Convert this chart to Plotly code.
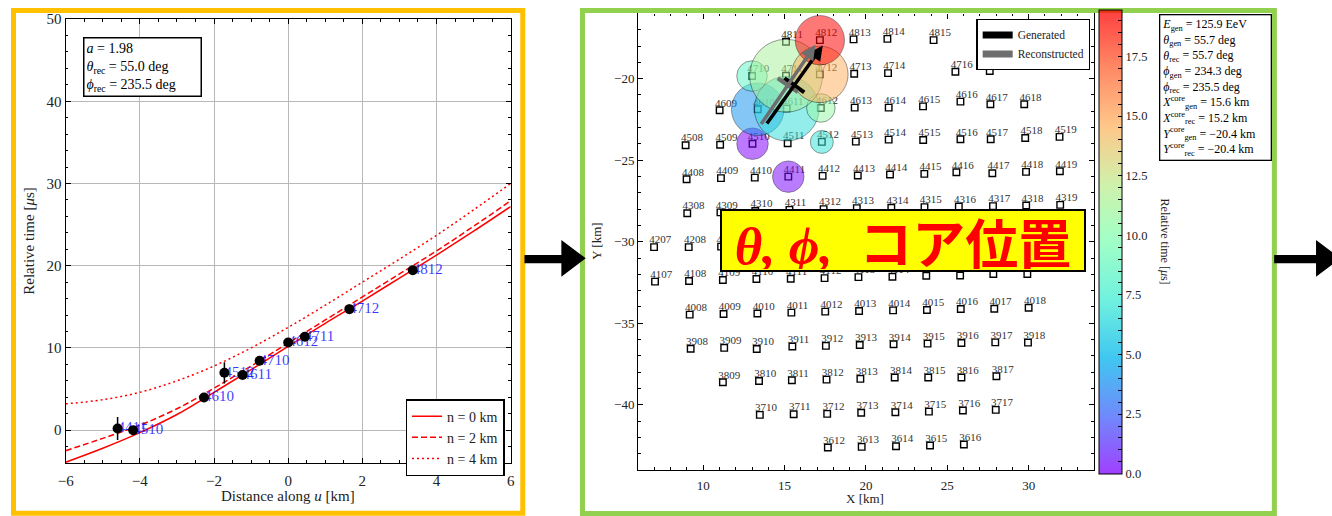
import math
import plotly.graph_objects as go

W, H = 1332, 516
SERIF = "Liberation Serif"

# ---------------- Left panel data (timing vs distance along u) ----------------
fit_station = ["4411", "4510", "4610", "4512", "4611", "4710", "4612", "4711", "4712", "4812"]
fit_u = [-4.60, -4.18, -2.27, -1.72, -1.23, -0.77, 0.00, 0.45, 1.65, 3.36]
fit_t = [0.2, 0.0, 3.98, 6.97, 6.7, 8.43, 10.67, 11.35, 14.72, 19.46]
fit_err = [1.4, 0.3, 0.3, 1.3, 0.3, 0.3, 0.3, 0.3, 0.3, 0.3]

curve_u = [-6, -5, -4, -3, -2, -1, 0, 1, 2, 3, 4, 5, 6]
curve_n0 = [-3.9, -2.2, -0.3, 1.9, 4.6, 7.35, 10.2, 13.0, 15.7, 18.5, 21.3, 24.2, 27.2]
curve_n2 = [-2.5, -1.0, 0.6, 2.6, 5.1, 7.8, 10.6, 13.4, 16.2, 19.0, 21.8, 24.8, 27.9]
curve_n4 = [3.2, 3.7, 4.6, 6.0, 7.8, 10.0, 12.5, 15.2, 18.0, 20.8, 23.7, 26.8, 30.0]
curve_names = ["n = 0 km", "n = 2 km", "n = 4 km"]

fit_a = 1.98
fit_theta_rec = 55.0
fit_phi_rec = 235.5

# ---------------- Middle panel data (detector map) ----------------
station_id = [
    "4811", "4812", "4813", "4814", "4815",
    "4710", "4711", "4712", "4713", "4714", "4716", "4717",
    "4609", "4610", "4611", "4612", "4613", "4614", "4615", "4616", "4617", "4618",
    "4508", "4509", "4510", "4511", "4512", "4513", "4514", "4515", "4516", "4517", "4518", "4519",
    "4408", "4409", "4410", "4411", "4412", "4413", "4414", "4415", "4416", "4417", "4418", "4419",
    "4308", "4309", "4310", "4311", "4312", "4313", "4314", "4315", "4316", "4317", "4318", "4319",
    "4207", "4208", "4209", "4210", "4211", "4212", "4213", "4214", "4215", "4216", "4217", "4218",
    "4107", "4108", "4109", "4110", "4111", "4112", "4113", "4114", "4115", "4116", "4117", "4118",
    "4008", "4009", "4010", "4011", "4012", "4013", "4014", "4015", "4016", "4017", "4018",
    "3908", "3909", "3910", "3911", "3912", "3913", "3914", "3915", "3916", "3917", "3918",
    "3809", "3810", "3811", "3812", "3813", "3814", "3815", "3816", "3817",
    "3710", "3711", "3712", "3713", "3714", "3715", "3716", "3717",
    "3612", "3613", "3614", "3615", "3616",
]
station_x = [
    15.09, 17.17, 19.24, 21.32, 24.16,
    13.00, 15.09, 17.17, 19.28, 21.36, 25.50, 27.61,
    11.01, 13.35, 15.13, 17.23, 19.31, 21.40, 23.51, 25.81, 27.65, 29.73,
    8.92, 11.04, 13.03, 15.19, 17.29, 19.38, 21.40, 23.52, 25.81, 27.67, 29.79, 31.90,
    8.98, 11.09, 13.17, 15.23, 17.34, 19.50, 21.48, 23.59, 25.56, 27.77, 29.84, 31.92,
    9.02, 11.06, 13.20, 15.30, 17.40, 19.44, 21.56, 23.60, 25.71, 27.81, 29.85, 31.94,
    6.98, 9.11, 11.10, 13.25, 15.35, 17.45, 19.55, 21.60, 23.70, 25.80, 27.85, 29.90,
    7.04, 9.13, 11.21, 13.27, 15.38, 17.46, 19.54, 21.63, 23.71, 25.79, 27.83, 29.92,
    9.17, 11.25, 13.33, 15.42, 17.50, 19.58, 21.67, 23.75, 25.83, 27.89, 30.00,
    9.23, 11.29, 13.29, 15.48, 17.54, 19.62, 21.70, 23.79, 25.87, 27.95, 29.96,
    11.21, 13.43, 15.45, 17.58, 19.66, 21.77, 23.83, 25.87, 28.02,
    13.48, 15.56, 17.62, 19.71, 21.81, 23.87, 25.96, 27.98,
    17.66, 19.74, 21.85, 23.94, 26.02,
]
station_y = [
    -17.74, -17.64, -17.59, -17.56, -17.64,
    -19.84, -19.82, -19.74, -19.70, -19.66, -19.58, -19.53,
    -21.94, -21.88, -21.84, -21.80, -21.78, -21.78, -21.70, -21.41, -21.57, -21.57,
    -24.08, -24.05, -23.99, -23.96, -23.88, -23.86, -23.74, -23.76, -23.72, -23.72, -23.64, -23.57,
    -26.17, -26.10, -26.07, -26.01, -25.96, -25.94, -25.88, -25.84, -25.74, -25.80, -25.72, -25.68,
    -28.25, -28.20, -28.12, -28.05, -28.00, -27.94, -27.92, -27.88, -27.84, -27.82, -27.78, -27.74,
    -30.33, -30.33, -30.30, -30.25, -30.20, -30.17, -30.13, -30.10, -30.07, -30.03, -30.00, -29.97,
    -32.45, -32.41, -32.35, -32.29, -32.27, -32.23, -32.17, -32.15, -32.09, -32.07, -31.98, -31.98,
    -34.47, -34.43, -34.40, -34.35, -34.29, -34.25, -34.21, -34.19, -34.13, -34.11, -34.05,
    -36.56, -36.51, -36.58, -36.43, -36.39, -36.33, -36.29, -36.25, -36.21, -36.17, -36.19,
    -38.62, -38.54, -38.50, -38.46, -38.41, -38.33, -38.33, -38.33, -38.25,
    -40.62, -40.58, -40.56, -40.49, -40.46, -40.42, -40.35, -40.31,
    -42.62, -42.58, -42.54, -42.50, -42.44,
]

hit_station = fit_station
hit_time = fit_t
hit_radius_km = [0.96, 0.96, 1.60, 0.70, 1.97, 0.93, 0.87, 2.22, 1.72, 1.50]

E_gen = 125.9
theta_gen, theta_rec = 55.7, 55.7
phi_gen, phi_rec = 234.3, 235.5
core_gen = (15.6, -20.4)
core_rec = (15.2, -20.4)

# ---------------- layout geometry ----------------
# target screen pixels -> layout pixels (the captured page is offset / rescaled slightly)
SX, SY = 1340.0 / 1332.0, 524.0 / 516.0


def X(p):
    return p * SX - 8


def Y(p):
    return p * SY - 8


def fx(p):
    return X(p) / W


def fy(p):
    return 1 - Y(p) / H


LX0, LX1, LY0, LY1 = 65.8, 512.2, 19.0, 463.0
MX0, MX1, MY0, MY1 = 640.0, 1097.0, 13.3, 470.0
MXR, MYR = [6, 34], [-44, -16]
PX_PER_KM = (X(MX1) - X(MX0)) / (MXR[1] - MXR[0])

fig = go.Figure()

# ---- left panel ----
styles = [dict(color="red", width=1.5),
          dict(color="red", width=1.5, dash="6px,3px"),
          dict(color="red", width=1.5, dash="2px,3px")]
for name, yy, st in zip(curve_names, [curve_n0, curve_n2, curve_n4], styles):
    fig.add_trace(go.Scatter(x=curve_u, y=yy, mode="lines", name=name, line=st,
                             line_shape="spline", xaxis="x", yaxis="y", legend="legend"))

fig.add_trace(go.Scatter(x=fit_u, y=fit_t, mode="text", text=fit_station,
                         textposition="middle right",
                         textfont=dict(family=SERIF, size=15, color="rgba(20,20,255,0.85)"),
                         showlegend=False, xaxis="x", yaxis="y", cliponaxis=False))
fig.add_trace(go.Scatter(x=fit_u, y=fit_t, mode="markers",
                         marker=dict(color="black", size=10),
                         error_y=dict(type="data", array=fit_err, color="black", thickness=1.5, width=0),
                         showlegend=False, xaxis="x", yaxis="y"))

# ---- middle panel ----
fig.add_trace(go.Scatter(x=station_x, y=station_y, mode="markers",
                         marker=dict(symbol="square-open", size=6.5, color="black", line=dict(width=1.4)),
                         showlegend=False, xaxis="x2", yaxis="y2"))
fig.add_trace(go.Scatter(x=[v - 0.29 for v in station_x], y=[v + 0.06 for v in station_y],
                         mode="text", text=station_id, textposition="top right",
                         textfont=dict(family=SERIF, size=11, color="#333333"),
                         showlegend=False, xaxis="x2", yaxis="y2"))

pos = {s: (x, y) for s, x, y in zip(station_id, station_x, station_y)}
hx = [pos[s][0] for s in hit_station]
hy = [pos[s][1] for s in hit_station]
al = 0.75
rainbow = [(0.0, (128, 0, 255)), (0.125, (64, 98, 250)), (0.25, (0, 180, 236)),
           (0.375, (64, 236, 212)), (0.5, (128, 255, 180)), (0.625, (191, 236, 142)),
           (0.75, (255, 180, 98)), (0.875, (255, 98, 50)), (1.0, (255, 0, 0))]
cscale = [[v, "rgba(%d,%d,%d,%.2f)" % (c[0], c[1], c[2], al)] for v, c in rainbow]

cb_ticks = [i * 0.5 for i in range(0, 40)]
cb_text = [("%.1f" % v) if abs(v / 2.5 - round(v / 2.5)) < 1e-9 else "" for v in cb_ticks]

fig.add_trace(go.Scatter(
    x=hx, y=hy, mode="markers", showlegend=False, xaxis="x2", yaxis="y2",
    marker=dict(size=[2 * r * PX_PER_KM for r in hit_radius_km], color=hit_time,
                colorscale=cscale, cmin=0, cmax=max(hit_time),
                line=dict(color="rgba(0,0,0,0.55)", width=1),
                showscale=True,
                colorbar=dict(x=fx(1102.3), xanchor="left", y=fy((MY0 + MY1) / 2), yanchor="middle",
                              len=Y(MY1) - Y(MY0), lenmode="pixels", thickness=23.4 / SX,
                              thicknessmode="pixels",
                              xpad=0, ypad=0, outlinecolor="black", outlinewidth=1,
                              ticks="inside", ticklen=4, tickcolor="black", tickwidth=1,
                              tickmode="array", tickvals=cb_ticks, ticktext=cb_text,
                              tickfont=dict(family=SERIF, size=12.5, color="#222"))),
))

# core bars perpendicular to the arrows
HALF_ARROW = 3.0
HALF_BAR = 0.75
for core, phi, col in [(core_gen, phi_gen, "black"), (core_rec, phi_rec, "#6e6e6e")]:
    a = math.radians(phi - 180)
    px_, py_ = -math.sin(a), math.cos(a)
    fig.add_trace(go.Scatter(x=[core[0] - HALF_BAR * px_, core[0] + HALF_BAR * px_],
                             y=[core[1] - HALF_BAR * py_, core[1] + HALF_BAR * py_],
                             mode="lines", line=dict(color=col, width=4),
                             showlegend=False, xaxis="x2", yaxis="y2"))

for name, col in [("Generated", "black"), ("Reconstructed", "#6e6e6e")]:
    fig.add_trace(go.Scatter(x=[None], y=[None], mode="lines", name=name,
                             line=dict(color=col, width=7), xaxis="x2", yaxis="y2", legend="legend2"))

annotations = []
for core, phi, col in [(core_gen, phi_gen, "black"), (core_rec, phi_rec, "#6e6e6e")]:
    a = math.radians(phi - 180)
    annotations.append(dict(
        x=core[0] + HALF_ARROW * math.cos(a), y=core[1] + HALF_ARROW * math.sin(a),
        ax=core[0] - HALF_ARROW * math.cos(a), ay=core[1] - HALF_ARROW * math.sin(a),
        xref="x2", yref="y2", axref="x2", ayref="y2", text="", showarrow=True,
        arrowhead=2, arrowsize=0.85, arrowwidth=3.5, arrowcolor=col, standoff=0))

# text boxes
annotations.append(dict(
    x=fx(82.8), y=fy(36.7), xref="paper", yref="paper", xanchor="left", yanchor="top",
    text=("<i>a</i> = %.2f<br><i>θ</i><sub>rec</sub> = %.1f deg<br><i>ϕ</i><sub>rec</sub> = %.1f deg"
          % (fit_a, fit_theta_rec, fit_phi_rec)),
    showarrow=False, align="left", width=112, font=dict(family=SERIF, size=14, color="black"),
    bgcolor="white", bordercolor="black", borderwidth=1.5, borderpad=2))

info = [
    "<i>E</i><sub>gen</sub> = %.1f EeV" % E_gen,
    "<i>θ</i><sub>gen</sub> = %.1f deg" % theta_gen,
    "<i>θ</i><sub>rec</sub> = %.1f deg" % theta_rec,
    "<i>ϕ</i><sub>gen</sub> = %.1f deg" % phi_gen,
    "<i>ϕ</i><sub>rec</sub> = %.1f deg" % phi_rec,
    "<i>X</i><sup>core</sup><sub>gen</sub> = %.1f km" % core_gen[0],
    "<i>X</i><sup>core</sup><sub>rec</sub> = %.1f km" % core_rec[0],
    "<i>Y</i><sup>core</sup><sub>gen</sub> = −%.1f km" % abs(core_gen[1]),
    "<i>Y</i><sup>core</sup><sub>rec</sub> = −%.1f km" % abs(core_rec[1]),
]
annotations.append(dict(
    x=fx(1162), y=fy(13.7), xref="paper", yref="paper", xanchor="left", yanchor="top",
    text="<br>".join(info), showarrow=False, align="left", width=106,
    font=dict(family=SERIF, size=12, color="black"),
    bgcolor="white", bordercolor="black", borderwidth=1.3, borderpad=2))

# axis titles
annotations += [
    dict(x=fx((LX0 + LX1) / 2), y=fy(496), xref="paper", yref="paper", showarrow=False,
         xanchor="center", yanchor="middle",
         text="Distance along <i>u</i> [km]", font=dict(family=SERIF, size=15, color="#222")),
    dict(x=fx(28.7), y=fy((LY0 + LY1) / 2), xref="paper", yref="paper", showarrow=False, textangle=-90,
         xanchor="center", yanchor="middle",
         text="Relative time [<i>μ</i>s]", font=dict(family=SERIF, size=15, color="#222")),
    dict(x=fx(868), y=fy(498), xref="paper", yref="paper", showarrow=False,
         xanchor="center", yanchor="middle",
         text="X [km]", font=dict(family=SERIF, size=13, color="#222")),
    dict(x=fx(597.5), y=fy(241), xref="paper", yref="paper", showarrow=False, textangle=-90,
         xanchor="center", yanchor="middle",
         text="Y [km]", font=dict(family=SERIF, size=13, color="#222")),
    dict(x=fx(1168), y=fy(241), xref="paper", yref="paper", showarrow=False, textangle=90,
         xanchor="center", yanchor="middle",
         text="Relative time [<i>μ</i>s]", font=dict(family=SERIF, size=12, color="#222")),
]

# highlighted banner
annotations.append(dict(
    x=fx(905.5), y=fy(240), xref="paper", yref="paper", xanchor="center", yanchor="middle",
    text=('<b><i><span style="font-family:Liberation Serif">θ,\u00a0ϕ,\u00a0\u00a0</span></i>コア位置</b>'),
    showarrow=False, width=360, height=57,
    font=dict(family="Noto Sans CJK JP", size=53, color="#FF0000"),
    bgcolor="#FFFF00", bordercolor="black", borderwidth=2, borderpad=1))


# ---- decorative frames and flow arrows ----
def path(pts):
    return "M " + " L ".join("%.5f,%.5f" % (fx(x), fy(y)) for x, y in pts) + " Z"


TOP = (0 + 2.6 + 8) / SY  # frame top line as high as the page allows
shapes = [
    dict(type="rect", xref="paper", yref="paper", x0=fx(13.5), x1=fx(524.3), y0=fy(513.3), y1=fy(TOP),
         line=dict(color="#FFC000", width=5), layer="above"),
    dict(type="rect", xref="paper", yref="paper", x0=fx(584.2), x1=fx(1278.2), y0=fy(513.5), y1=fy(TOP),
         line=dict(color="#92D050", width=5), layer="above"),
    dict(type="path", xref="paper", yref="paper", fillcolor="black", line=dict(width=0), layer="above",
         path=path([(526, 255), (563, 255), (563, 240), (587.5, 258.3), (563, 276.7), (563, 263.3), (526, 263.3)])),
    dict(type="path", xref="paper", yref="paper", fillcolor="black", line=dict(width=0), layer="above",
         path=path([(1278, 255), (1320, 255), (1320, 240), (1344.5, 258.3), (1320, 276.7), (1320, 263.3), (1278, 263.3)])),
]

axis_common = dict(showline=True, linecolor="black", linewidth=1.2, mirror="allticks",
                   ticks="inside", ticklen=5, tickcolor="black", zeroline=False)

fig.update_layout(
    width=W, height=H, margin=dict(l=0, r=0, t=0, b=0),
    paper_bgcolor="white", plot_bgcolor="white",
    font=dict(family=SERIF, color="#222"),
    xaxis=dict(domain=[fx(LX0), fx(LX1)], range=[-6, 6], dtick=2, anchor="y",
               showgrid=True, gridcolor="#b8b8b8", gridwidth=1, ticklabelstandoff=4,
               minor=dict(ticks="inside", ticklen=2.5, dtick=0.5, tickcolor="black", showgrid=False),
               tickfont=dict(family=SERIF, size=15, color="#222"), **axis_common),
    yaxis=dict(domain=[fy(LY1), fy(LY0)], range=[-4, 50], dtick=10, anchor="x",
               showgrid=True, gridcolor="#b8b8b8", gridwidth=1,
               minor=dict(ticks="inside", ticklen=2.5, dtick=2, tickcolor="black", showgrid=False),
               tickfont=dict(family=SERIF, size=15, color="#222"), **axis_common),
    xaxis2=dict(domain=[fx(MX0), fx(MX1)], range=MXR, tickvals=[10, 15, 20, 25, 30], anchor="y2",
                showgrid=False, ticklabelstandoff=3,
                minor=dict(ticks="inside", ticklen=2.5, dtick=1, tickcolor="black", showgrid=False),
                tickfont=dict(family=SERIF, size=13, color="#222"), **axis_common),
    yaxis2=dict(domain=[fy(MY1), fy(MY0)], range=MYR, tickvals=[-20, -25, -30, -35, -40], anchor="x2",
                showgrid=False,
                minor=dict(ticks="inside", ticklen=2.5, dtick=1, tickcolor="black", showgrid=False),
                tickfont=dict(family=SERIF, size=13, color="#222"), **axis_common),
    legend=dict(x=fx(406.7), y=fy(399), xanchor="left", yanchor="top", bgcolor="white",
                bordercolor="black", borderwidth=1.5, font=dict(family=SERIF, size=14, color="#222"),
                tracegroupgap=0),
    legend2=dict(x=fx(979.3), y=fy(19), xanchor="left", yanchor="top", bgcolor="white",
                 bordercolor="black", borderwidth=1.3, font=dict(family=SERIF, size=11.5, color="#222"),
                 tracegroupgap=0),
    annotations=annotations,
    shapes=shapes,
)

fig.write_html("out.html")
